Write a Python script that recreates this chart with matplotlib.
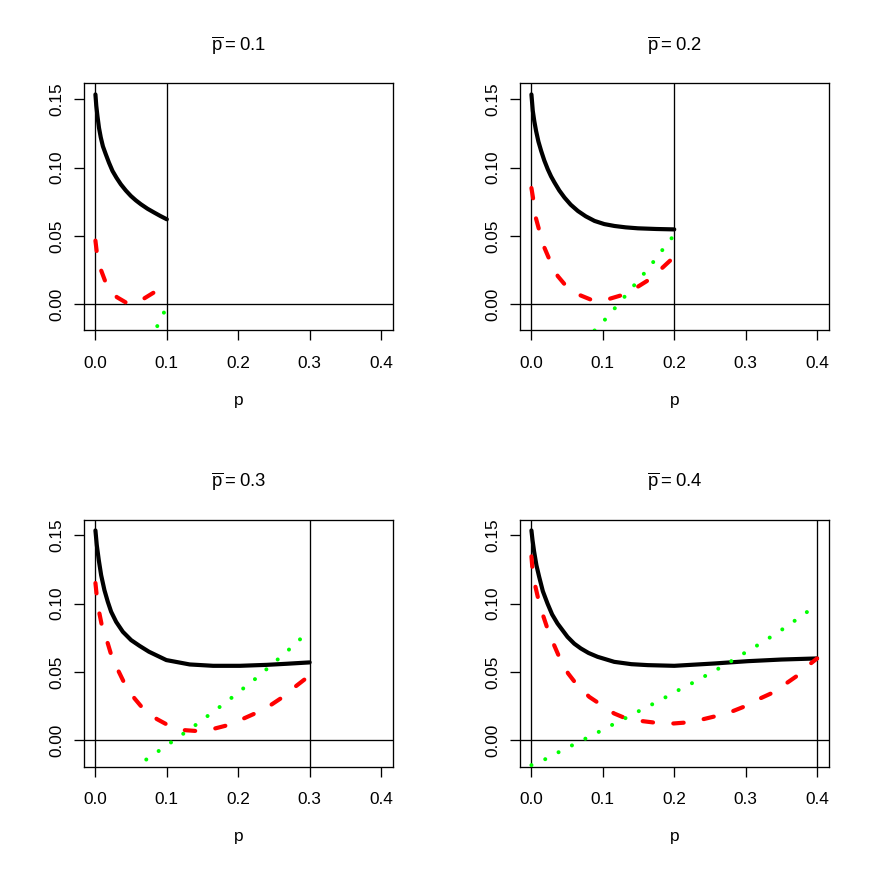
import numpy as np
import matplotlib.pyplot as plt

plt.rcParams['font.family'] = ['Liberation Sans', 'DejaVu Sans']
plt.rcParams['mathtext.fontset'] = 'custom'
plt.rcParams['mathtext.rm'] = 'Liberation Sans'

pbar = [0.1, 0.2, 0.3, 0.4]

# solid black curves
black_x1 = [0, 0.0012, 0.0028, 0.005, 0.0075, 0.0105, 0.0145, 0.019, 0.0239, 0.0295, 0.0356,
            0.0425, 0.0496, 0.0565, 0.0637, 0.073, 0.0824, 0.091, 0.1]
black_y1 = [0.1535, 0.1452, 0.1378, 0.129, 0.122, 0.1155, 0.1097, 0.1035, 0.0975, 0.0925, 0.0877,
            0.0832, 0.0792, 0.076, 0.0731, 0.0698, 0.067, 0.0645, 0.0621]
black_x2 = [0, 0.0019, 0.004, 0.0065, 0.0098, 0.0136, 0.018, 0.0229, 0.0275, 0.0323, 0.039,
            0.0463, 0.055, 0.065, 0.076, 0.0884, 0.102, 0.1164, 0.132, 0.149, 0.175, 0.2]
black_y2 = [0.1535, 0.1415, 0.134, 0.1268, 0.119, 0.1122, 0.1052, 0.0987, 0.0935, 0.089, 0.0832,
            0.078, 0.0728, 0.0682, 0.0643, 0.0609, 0.0586, 0.0572, 0.0562, 0.0555, 0.055, 0.0547]
black_x3 = [0, 0.0019, 0.0047, 0.008, 0.0126, 0.0173, 0.022, 0.029, 0.0384, 0.05, 0.0618, 0.075,
            0.0993, 0.132, 0.1648, 0.2022, 0.2397, 0.2678, 0.3]
black_y3 = [0.1535, 0.1428, 0.1318, 0.1208, 0.1098, 0.1013, 0.094, 0.0866, 0.0793, 0.0732, 0.069,
            0.0647, 0.0586, 0.0554, 0.0544, 0.0544, 0.0551, 0.0559, 0.0569]
black_x4 = [0, 0.0015, 0.0038, 0.007, 0.0108, 0.016, 0.0225, 0.029, 0.0365, 0.0505, 0.06, 0.0692,
            0.08, 0.0926, 0.116, 0.14, 0.163, 0.2, 0.256, 0.303, 0.35, 0.4]
black_y4 = [0.1535, 0.1465, 0.1379, 0.128, 0.1196, 0.109, 0.100, 0.092, 0.0854, 0.0756, 0.0706,
            0.0671, 0.0638, 0.061, 0.0573, 0.0556, 0.0549, 0.0544, 0.0561, 0.0578, 0.059, 0.0598]

# red dashed curves
red_x1 = [0, 0.002, 0.0075, 0.0145, 0.03, 0.045, 0.056, 0.0674, 0.0833, 0.1]
red_y1 = [0.0465, 0.0376, 0.0254, 0.0156, 0.0051, 0.0005, 0.0012, 0.0039, 0.009, 0.015]
red_x2 = [0, 0.0028, 0.0061, 0.0112, 0.0182, 0.0252, 0.0369, 0.0486, 0.0687, 0.0851, 0.095,
          0.1094, 0.1267, 0.1482, 0.1632, 0.1819, 0.1959, 0.2]
red_y2 = [0.085, 0.076, 0.0633, 0.0535, 0.0413, 0.0327, 0.0205, 0.0132, 0.0064, 0.0029, 0.0025,
          0.0039, 0.0066, 0.0125, 0.0174, 0.0259, 0.0327, 0.035]
red_x3 = [0, 0.002, 0.0056, 0.0103, 0.0173, 0.0229, 0.0328, 0.0407, 0.0548, 0.0665, 0.0861,
          0.1016, 0.125, 0.1437, 0.1671, 0.1858, 0.2079, 0.2233, 0.2453, 0.2608, 0.2795, 0.2945, 0.3]
red_y3 = [0.115, 0.105, 0.0927, 0.0805, 0.0708, 0.061, 0.05, 0.0415, 0.0305, 0.0232, 0.0154,
          0.011, 0.0073, 0.0066, 0.0085, 0.011, 0.0159, 0.0195, 0.0256, 0.031, 0.039, 0.0451, 0.047]
red_x4 = [0, 0.0014, 0.0051, 0.0094, 0.0154, 0.0224, 0.0318, 0.0388, 0.0514, 0.0622, 0.0809,
          0.0949, 0.1159, 0.1323, 0.1557, 0.1744, 0.1992, 0.2165, 0.2412, 0.2585, 0.2819, 0.2973,
          0.3202, 0.3357, 0.3567, 0.3721, 0.3894, 0.4]
red_y4 = [0.1345, 0.1257, 0.1135, 0.1037, 0.0927, 0.0817, 0.0695, 0.061, 0.0488, 0.0415, 0.0317,
          0.0268, 0.0195, 0.0159, 0.0139, 0.0127, 0.0122, 0.0129, 0.0154, 0.0176, 0.0212, 0.0244,
          0.0305, 0.0342, 0.0415, 0.0471, 0.0554, 0.0598]

# green dotted curves
green_x1 = [0.0866, 0.096, 0.1]
green_y1 = [-0.0161, -0.0061, -0.0018]
green_x2 = [0.0884, 0.1024, 0.1164, 0.1304, 0.1445, 0.1582, 0.1716, 0.1848, 0.1983, 0.2]
green_y2 = [-0.0193, -0.0117, -0.0032, 0.0054, 0.0142, 0.0227, 0.0315, 0.0406, 0.0496, 0.0507]
green_x3 = [0.0712, 0.089, 0.1063, 0.1236, 0.1414, 0.1587, 0.1756, 0.1924, 0.2093, 0.2257,
            0.242, 0.258, 0.2739, 0.2898, 0.3]
green_y3 = [-0.0142, -0.0078, -0.0015, 0.0049, 0.0115, 0.0183, 0.0249, 0.0317, 0.0388, 0.0456,
            0.053, 0.0603, 0.0676, 0.0754, 0.080]
green_x4 = [0, 0.0188, 0.0374, 0.0566, 0.0753, 0.0945, 0.1132, 0.1324, 0.151, 0.1702, 0.189,
            0.2077, 0.2268, 0.2455, 0.2642, 0.283, 0.3012, 0.32, 0.3377, 0.3555, 0.3733, 0.391, 0.4]
green_y4 = [-0.0183, -0.0141, -0.009, -0.0039, 0.001, 0.0061, 0.0112, 0.0163, 0.0214, 0.0265,
            0.0317, 0.0371, 0.0422, 0.0476, 0.053, 0.0588, 0.0647, 0.0705, 0.0764, 0.0825, 0.0891,
            0.0957, 0.098]

black_x = [black_x1, black_x2, black_x3, black_x4]
black_y = [black_y1, black_y2, black_y3, black_y4]
red_x = [red_x1, red_x2, red_x3, red_x4]
red_y = [red_y1, red_y2, red_y3, red_y4]
green_x = [green_x1, green_x2, green_x3, green_x4]
green_y = [green_y1, green_y2, green_y3, green_y4]

xticks = [0, 0.1, 0.2, 0.3, 0.4]
xtick_labels = ["0.0", "0.1", "0.2", "0.3", "0.4"]
yticks = [0, 0.05, 0.10, 0.15]
ytick_labels = ["0.00", "0.05", "0.10", "0.15"]

fig = plt.figure(figsize=(8.72, 8.72), dpi=100)

for i in range(4):
    r, c = divmod(i, 2)
    ax = fig.add_axes([(84 + 436 * c) / 872, 1 - (330.5 + 436 * r) / 872, 308.5 / 872, 247 / 872])

    ax.axhline(0, color="black", lw=0.95, zorder=1)
    ax.axvline(0, color="black", lw=0.95, zorder=1)
    ax.axvline(pbar[i], color="black", lw=0.95, zorder=1)

    ax.plot(black_x[i], black_y[i], color="black", lw=3, solid_capstyle="round",
            solid_joinstyle="round", zorder=3)
    ax.plot(red_x[i], red_y[i], color="red", lw=3, linestyle=(0, (2.5, 4.87)),
            dash_capstyle="round", zorder=3)
    ax.plot(green_x[i], green_y[i], color="#00FF00", lw=2.9, linestyle=(0, (0.01, 3.72)),
            dash_capstyle="round", zorder=3)

    ax.set_xlim(-0.016, 0.416)
    ax.set_ylim(-0.0193, 0.1615)
    ax.set_xticks(xticks)
    ax.set_xticklabels(xtick_labels)
    ax.set_yticks(yticks)
    ax.set_yticklabels(ytick_labels)
    ax.tick_params(direction="out", length=7.2, width=0.95, labelsize=12.4)
    ax.tick_params(axis="x", pad=11.5)
    ax.tick_params(axis="y", pad=7)
    for lab in ax.get_yticklabels():
        lab.set_rotation(90)
        lab.set_va("center")
    for s in ax.spines.values():
        s.set_linewidth(0.95)

    ax.set_xlabel("p", fontsize=12.4)
    ax.xaxis.set_label_coords(0.5, -0.255)
    ax.text(0.5, 1.135, r"$\overline{\mathrm{p}} = %.1f$" % pbar[i], transform=ax.transAxes,
            ha="center", va="baseline", fontsize=13.3)

fig.savefig("out.png", dpi=100)
